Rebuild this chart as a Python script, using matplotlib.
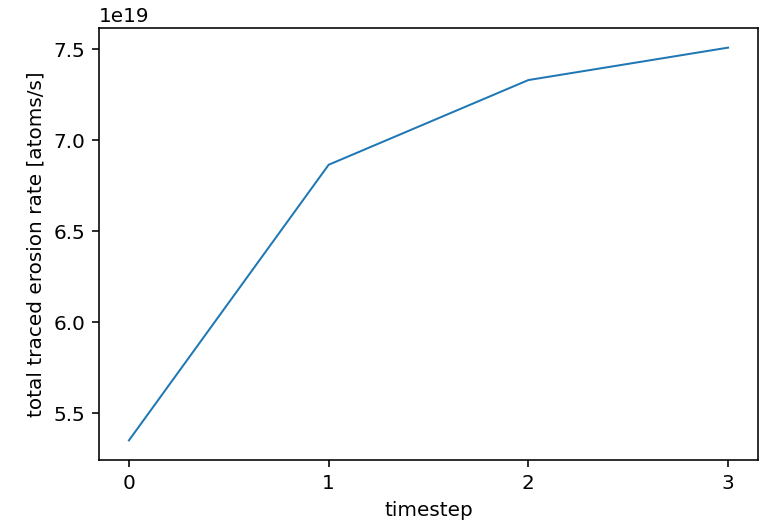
import matplotlib
matplotlib.use("Agg")
import matplotlib.pyplot as plt

timesteps = [0, 1, 2, 3]
erosion = [5.352e19, 6.865e19, 7.33e19, 7.508e19]

dpi = 144
fig = plt.figure(figsize=(764/dpi, 524/dpi), dpi=dpi)
ax = fig.add_axes([99/764, 1-460/524, (758-99)/764, (460-28)/524])
ax.plot(timesteps, erosion, color="#1f77b4", linewidth=1.0)
ax.set_xticks(timesteps)
ax.set_xlabel("timestep")
ax.set_ylabel("total traced erosion rate [atoms/s]")
fig.savefig("out.png", dpi=dpi)
